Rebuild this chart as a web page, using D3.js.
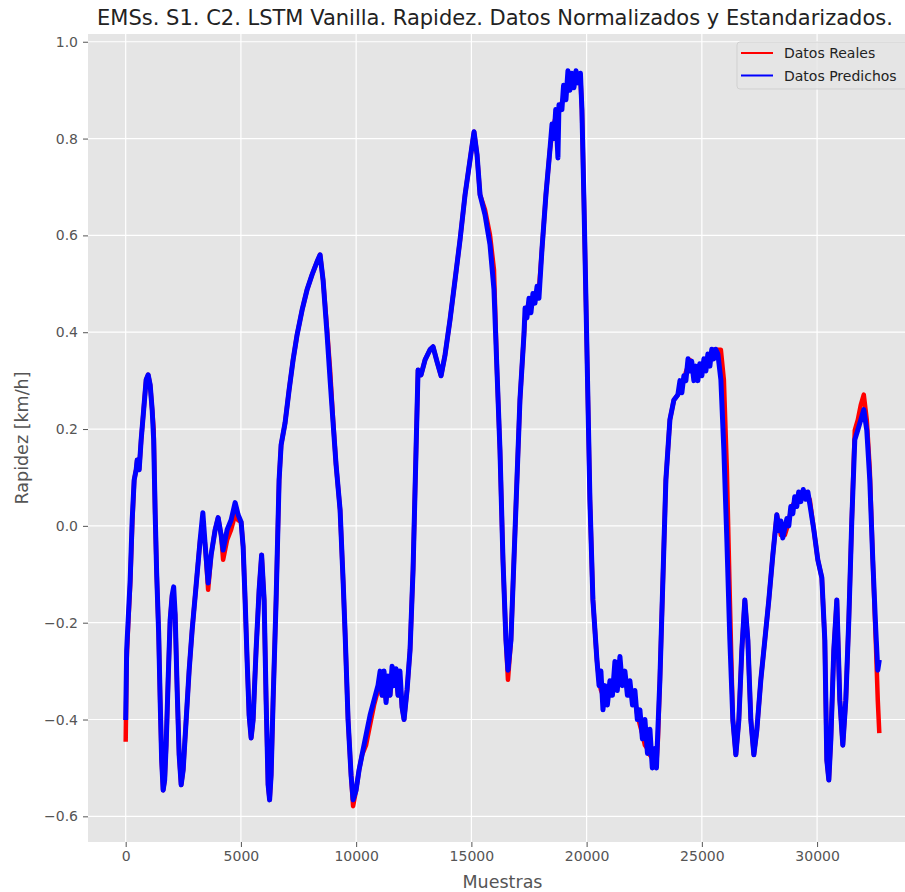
<!DOCTYPE html>
<html>
<head>
<meta charset="utf-8">
<script src="https://cdn.jsdelivr.net/npm/d3@7"></script>
<style>
  body { margin: 0; background: #fff; }
  text { font-family: "DejaVu Sans", sans-serif; }
</style>
</head>
<body>
<div id="chart"></div>
<script>
// sample index (Muestras)
const muestras = [0,43,108,195,282,369,455,499,585,672,781,889,976,1063,1149,1214,1279,1344,1431,1496,1561,1626,1691,1756,1843,1930,2017,2082,2147,2234,2320,2407,2494,2624,2754,2884,3058,3231,3348,3448,3578,3708,3882,4012,4142,4228,4402,4575,4749,4879,5009,5096,5182,5269,5356,5443,5529,5659,5790,5898,6007,6093,6180,6245,6310,6397,6527,6657,6744,6917,7091,7264,7438,7655,7871,8088,8305,8435,8565,8739,8869,8999,9129,9303,9433,9520,9650,9780,9867,9997,10127,10257,10430,10604,10777,10951,
  11040,11124,11210,11298,11380,11471,11560,11644,11730,11818,11900,11992,12079,
  12209,12339,12469,12599,12686,12816,12990,13206,13337,13510,13684,13857,14074,14291,14508,14725,14941,15115,15245,15375,15590,15807,15980,16110,16240,16370,16500,16587,16717,16847,16977,17107,17281,
  17330,17411,17500,17584,17670,17758,17850,17931,
  18061,18234,18408,
  18500,18581,18660,18755,18800,18928,19000,19102,19190,19275,19360,19449,19540,19622,19731,
  19796,19883,19970,20057,20143,20273,20447,
  20540,20620,20710,20794,20900,21011,21120,21228,21330,21445,21550,21661,21770,21878,21990,22095,22200,22312,22420,22529,22640,22746,22850,22963,23030,23093,
  23179,23309,23439,23613,23786,23960,
  24050,24133,24220,24307,24400,24480,24560,24654,24740,24827,24910,25001,25090,25174,25260,25348,25430,25521,25600,25695,
  25825,25955,26085,26215,26345,26475,26605,26735,26865,26996,27126,27256,27386,27559,27733,27906,28080,28253,
  28340,28427,28510,28600,28690,28774,28860,28947,29030,29121,29200,29294,29400,29511,29600,29684,
  29858,30031,30205,30335,30422,30509,30596,30726,30856,30986,31116,31246,31376,31506,31636,31766,31896,32026,32156,32286,32416,32546,32633,32700];

// predicted speed
const predichos = [-0.401,-0.256,-0.194,-0.112,0.012,0.095,0.116,0.136,0.116,0.178,0.240,0.302,0.312,0.291,0.240,0.178,0.027,-0.097,-0.221,-0.360,-0.484,-0.546,-0.525,-0.453,-0.318,-0.194,-0.143,-0.126,-0.184,-0.339,-0.473,-0.535,-0.504,-0.401,-0.298,-0.215,-0.122,-0.029,0.027,-0.039,-0.118,-0.060,-0.008,0.017,-0.019,-0.050,-0.008,0.012,0.048,0.023,0.008,-0.043,-0.153,-0.277,-0.391,-0.438,-0.401,-0.256,-0.132,-0.060,-0.153,-0.360,-0.535,-0.566,-0.515,-0.360,-0.153,0.095,0.167,0.213,0.281,0.343,0.395,0.446,0.488,0.519,0.546,0.560,0.508,0.395,0.302,0.213,0.126,0.033,-0.112,-0.221,-0.401,-0.515,-0.566,-0.546,-0.504,-0.473,-0.432,-0.391,-0.360,-0.329,
  -0.300,-0.350,-0.300,-0.365,-0.310,-0.350,-0.290,-0.330,-0.295,-0.350,-0.300,-0.375,-0.400,
  -0.339,-0.256,-0.091,0.157,0.322,0.312,0.343,0.364,0.370,0.339,0.310,0.353,0.426,0.508,0.591,0.684,0.756,0.814,0.767,0.684,0.643,0.581,0.488,0.322,0.157,-0.070,-0.236,-0.298,-0.236,-0.070,0.095,0.260,0.395,
  0.450,0.430,0.470,0.440,0.480,0.460,0.495,0.470,
  0.570,0.684,0.777,
  0.830,0.800,0.860,0.760,0.870,0.860,0.910,0.880,0.940,0.900,0.935,0.905,0.940,0.915,0.935,
  0.860,0.674,0.467,0.260,0.054,-0.153,-0.277,
  -0.330,-0.300,-0.380,-0.330,-0.370,-0.320,-0.350,-0.280,-0.340,-0.270,-0.330,-0.300,-0.350,-0.320,-0.370,-0.340,-0.400,-0.380,-0.440,-0.400,-0.470,-0.420,-0.500,-0.460,-0.500,-0.420,
  -0.318,-0.112,0.095,0.219,0.260,0.271,
  0.300,0.275,0.310,0.300,0.345,0.320,0.340,0.300,0.330,0.300,0.335,0.310,0.345,0.320,0.355,0.330,0.365,0.345,0.365,0.355,
  0.302,0.157,-0.029,-0.236,-0.401,-0.473,-0.401,-0.256,-0.153,-0.236,-0.401,-0.473,-0.422,-0.318,-0.236,-0.153,-0.060,0.023,
  -0.010,0.010,-0.025,-0.005,0.015,0.000,0.040,0.025,0.060,0.040,0.070,0.050,0.075,0.055,0.070,0.045,
  -0.008,-0.070,-0.107,-0.236,-0.484,-0.525,-0.442,-0.256,-0.153,-0.360,-0.453,-0.360,-0.194,0.012,0.178,0.198,0.219,0.240,0.198,0.095,-0.070,-0.215,-0.298,-0.277];

// real speed
const reales = [-0.446,-0.277,-0.205,-0.122,0.002,0.095,0.116,0.136,0.116,0.178,0.240,0.302,0.312,0.291,0.240,0.198,0.027,-0.097,-0.221,-0.360,-0.484,-0.546,-0.525,-0.453,-0.318,-0.194,-0.143,-0.153,-0.184,-0.339,-0.473,-0.535,-0.504,-0.401,-0.298,-0.215,-0.122,-0.029,0.002,-0.039,-0.132,-0.060,-0.008,0.017,-0.019,-0.070,-0.029,-0.008,0.023,0.012,0.008,-0.043,-0.153,-0.277,-0.391,-0.438,-0.401,-0.256,-0.132,-0.060,-0.153,-0.360,-0.535,-0.566,-0.515,-0.360,-0.153,0.095,0.167,0.213,0.281,0.343,0.395,0.446,0.488,0.519,0.546,0.560,0.508,0.405,0.322,0.219,0.126,0.033,-0.112,-0.221,-0.401,-0.515,-0.579,-0.546,-0.504,-0.473,-0.453,-0.411,-0.370,-0.339,
  -0.330,-0.350,-0.330,-0.360,-0.330,-0.350,-0.310,-0.330,-0.310,-0.350,-0.320,-0.375,-0.400,
  -0.339,-0.256,-0.091,0.157,0.322,0.312,0.343,0.364,0.370,0.339,0.310,0.353,0.426,0.508,0.591,0.684,0.756,0.814,0.767,0.684,0.653,0.601,0.529,0.322,0.157,-0.070,-0.236,-0.318,-0.236,-0.070,0.095,0.260,0.395,
  0.430,0.450,0.460,0.460,0.470,0.475,0.480,0.488,
  0.570,0.684,0.777,
  0.810,0.830,0.845,0.855,0.860,0.875,0.885,0.895,0.905,0.915,0.920,0.925,0.930,0.930,0.926,
  0.860,0.674,0.467,0.260,0.054,-0.153,-0.277,
  -0.320,-0.339,-0.350,-0.360,-0.350,-0.339,-0.330,-0.314,-0.300,-0.293,-0.310,-0.318,-0.330,-0.339,-0.350,-0.360,-0.390,-0.411,-0.430,-0.453,-0.460,-0.473,-0.480,-0.484,-0.490,-0.442,
  -0.318,-0.112,0.095,0.219,0.260,0.271,
  0.280,0.291,0.300,0.318,0.330,0.343,0.330,0.318,0.315,0.312,0.320,0.327,0.333,0.339,0.344,0.349,0.356,0.364,0.364,0.364,
  0.364,0.302,0.116,-0.153,-0.401,-0.473,-0.401,-0.256,-0.153,-0.236,-0.401,-0.473,-0.422,-0.318,-0.236,-0.153,-0.060,0.023,
  0.005,-0.019,-0.020,-0.019,-0.005,0.012,0.030,0.043,0.050,0.054,0.060,0.064,0.068,0.070,0.062,0.054,
  -0.008,-0.070,-0.107,-0.236,-0.484,-0.525,-0.442,-0.256,-0.153,-0.360,-0.453,-0.360,-0.194,0.012,0.198,0.219,0.250,0.271,0.219,0.116,-0.070,-0.236,-0.360,-0.428];

const xTicks = [0, 5000, 10000, 15000, 20000, 25000, 30000];
const yTicks = [-0.6, -0.4, -0.2, 0.0, 0.2, 0.4, 0.6, 0.8, 1.0];
const series = ['Datos Reales', 'Datos Predichos'];
const colours = ['#ff0000', '#0000ff'];

const W = 905, H = 892;
const margin = {top: 34, right: -12, bottom: 50, left: 88};
const width = W - margin.left - margin.right;
const height = H - margin.top - margin.bottom;

const svg = d3.select('#chart').append('svg')
    .attr('width', W)
    .attr('height', H);

// matplotlib style 5% padding on x
const n = d3.max(muestras);
const xPad = n * 0.05;

const x = d3.scaleLinear()
    .domain([-xPad, n + xPad])
    .range([0, width]);
const y = d3.scaleLinear()
    .domain([-0.653, 1.016])
    .range([height, 0]);

const g = svg.append('g')
    .attr('transform', 'translate(' + margin.left + ',' + margin.top + ')');

g.append('rect')
    .attr('width', width)
    .attr('height', height)
    .attr('fill', '#e5e5e5');

// grid
g.append('g').selectAll('line').data(xTicks).join('line')
    .attr('x1', d => x(d)).attr('x2', d => x(d))
    .attr('y1', 0).attr('y2', height)
    .attr('stroke', '#fff').attr('stroke-width', 1.2);
g.append('g').selectAll('line').data(yTicks).join('line')
    .attr('x1', 0).attr('x2', width)
    .attr('y1', d => y(d)).attr('y2', d => y(d))
    .attr('stroke', '#fff').attr('stroke-width', 1.2);

// axes
const xAxis = g.append('g')
    .attr('transform', 'translate(0,' + height + ')')
    .call(d3.axisBottom(x).tickValues(xTicks).tickFormat(d3.format('d')).tickSize(5).tickPadding(4));
const yAxis = g.append('g')
    .call(d3.axisLeft(y).tickValues(yTicks).tickFormat(d3.format('.1f')).tickSize(5).tickPadding(5));
[xAxis, yAxis].forEach(a => {
  a.select('.domain').remove();
  a.selectAll('line').attr('stroke', '#555');
  a.selectAll('text').attr('fill', '#555').style('font-size', '14px');
});

// lines
const line = d3.line()
    .x(d => x(d[0]))
    .y(d => y(d[1]));

const dataReal = muestras.map((m, i) => [m, reales[i]]);
const dataPred = muestras.map((m, i) => [m, predichos[i]]);

g.append('path')
    .datum(dataReal)
    .attr('fill', 'none')
    .attr('stroke', colours[0])
    .attr('stroke-width', 4.5)
    .attr('stroke-linejoin', 'round')
    .attr('d', line);
g.append('path')
    .datum(dataPred)
    .attr('fill', 'none')
    .attr('stroke', colours[1])
    .attr('stroke-width', 5)
    .attr('stroke-linejoin', 'round')
    .attr('d', line);

// legend
const lg = svg.append('g').attr('transform', 'translate(737,42)');
lg.append('rect')
    .attr('width', 178).attr('height', 47).attr('rx', 3)
    .attr('fill', '#e5e5e5').attr('fill-opacity', 0.8)
    .attr('stroke', '#cccccc').attr('stroke-opacity', 0.8);
series.forEach((s, i) => {
  const row = lg.append('g').attr('transform', 'translate(0,' + (11 + i * 22.5) + ')');
  row.append('line')
      .attr('x1', 4).attr('x2', 36)
      .attr('stroke', colours[i]).attr('stroke-width', 2);
  row.append('text')
      .attr('x', 47).attr('y', 5)
      .style('font-size', '14px')
      .attr('fill', '#222')
      .text(s);
});

// title and labels
svg.append('text')
    .attr('x', 495).attr('y', 25)
    .attr('text-anchor', 'middle')
    .style('font-size', '21px')
    .attr('fill', '#222')
    .text('EMSs. S1. C2. LSTM Vanilla. Rapidez. Datos Normalizados y Estandarizados.');
svg.append('text')
    .attr('x', margin.left + width / 2).attr('y', 888)
    .attr('text-anchor', 'middle')
    .style('font-size', '17.5px')
    .attr('fill', '#555')
    .text('Muestras');
svg.append('text')
    .attr('transform', 'translate(28,' + (margin.top + height / 2) + ') rotate(-90)')
    .attr('text-anchor', 'middle')
    .style('font-size', '17.5px')
    .attr('fill', '#555')
    .text('Rapidez [km/h]');
</script>
</body>
</html>
